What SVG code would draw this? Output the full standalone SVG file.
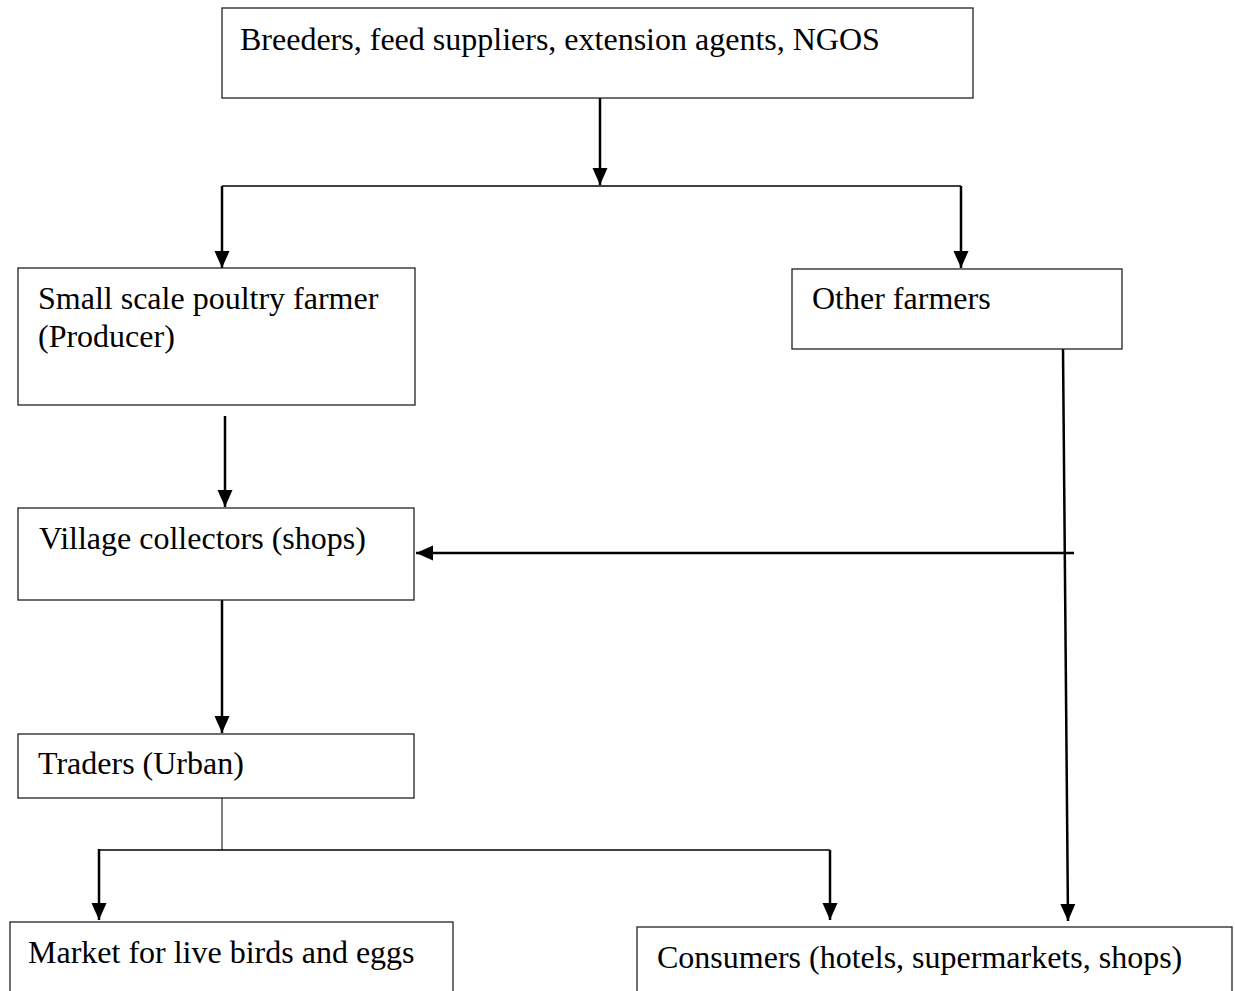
<svg xmlns="http://www.w3.org/2000/svg" width="1235" height="991" viewBox="0 0 1235 991">
<defs>
<style>
.box{fill:#fff;stroke:#222;stroke-width:1.3}
.t{font-family:"Liberation Serif","Times New Roman",serif;font-size:32px;fill:#000}
.arr{stroke:#000;stroke-width:2.5;fill:none;marker-end:url(#ah)}
.ln{stroke:#000;stroke-width:1.5;fill:none}
.thin{stroke:#000;stroke-width:1;fill:none}
</style>
<marker id="ah" markerUnits="userSpaceOnUse" markerWidth="18" markerHeight="16" refX="17" refY="7.5" orient="auto">
<path d="M0,0 L17,7.5 L0,15 Z" fill="#000"/>
</marker>
</defs>
<rect width="1235" height="991" fill="#fff"/>
<g id="connectors">
<line class="arr" x1="600" y1="98" x2="600" y2="185"/>
<line class="ln" x1="222" y1="186" x2="961" y2="186"/>
<line class="arr" x1="222" y1="186" x2="222" y2="268"/>
<line class="arr" x1="961" y1="186" x2="961" y2="268"/>
<line class="arr" x1="225" y1="416" x2="225" y2="507"/>
<line class="arr" x1="1074" y1="553" x2="416" y2="553"/>
<line class="arr" x1="1063" y1="349" x2="1068" y2="921"/>
<line class="arr" x1="222" y1="600" x2="222" y2="733"/>
<line class="thin" x1="222" y1="798" x2="222" y2="850"/>
<line class="ln" x1="98" y1="850" x2="830" y2="850"/>
<line class="arr" x1="99" y1="849" x2="99" y2="920"/>
<line class="arr" x1="830" y1="850" x2="830" y2="920"/>
</g>
<g id="node-breeders">
<rect class="box" x="222" y="8" width="751" height="90"/>
<text class="t" x="240" y="50">Breeders, feed suppliers, extension agents, NGOS</text>
</g>
<g id="node-small-scale">
<rect class="box" x="18" y="268" width="397" height="137"/>
<text class="t" x="38" y="309">Small scale poultry farmer</text>
<text class="t" x="38" y="347">(Producer)</text>
</g>
<g id="node-other-farmers">
<rect class="box" x="792" y="269" width="330" height="80"/>
<text class="t" x="812" y="309">Other farmers</text>
</g>
<g id="node-village">
<rect class="box" x="18" y="508" width="396" height="92"/>
<text class="t" x="39" y="549">Village collectors (shops)</text>
</g>
<g id="node-traders">
<rect class="box" x="18" y="734" width="396" height="64"/>
<text class="t" x="38" y="774">Traders (Urban)</text>
</g>
<g id="node-market">
<rect class="box" x="10" y="922" width="443" height="80"/>
<text class="t" x="28" y="963">Market for live birds and eggs</text>
</g>
<g id="node-consumers">
<rect class="box" x="637" y="927" width="595" height="80"/>
<text class="t" x="657" y="968">Consumers (hotels, supermarkets, shops)</text>
</g>
</svg>
